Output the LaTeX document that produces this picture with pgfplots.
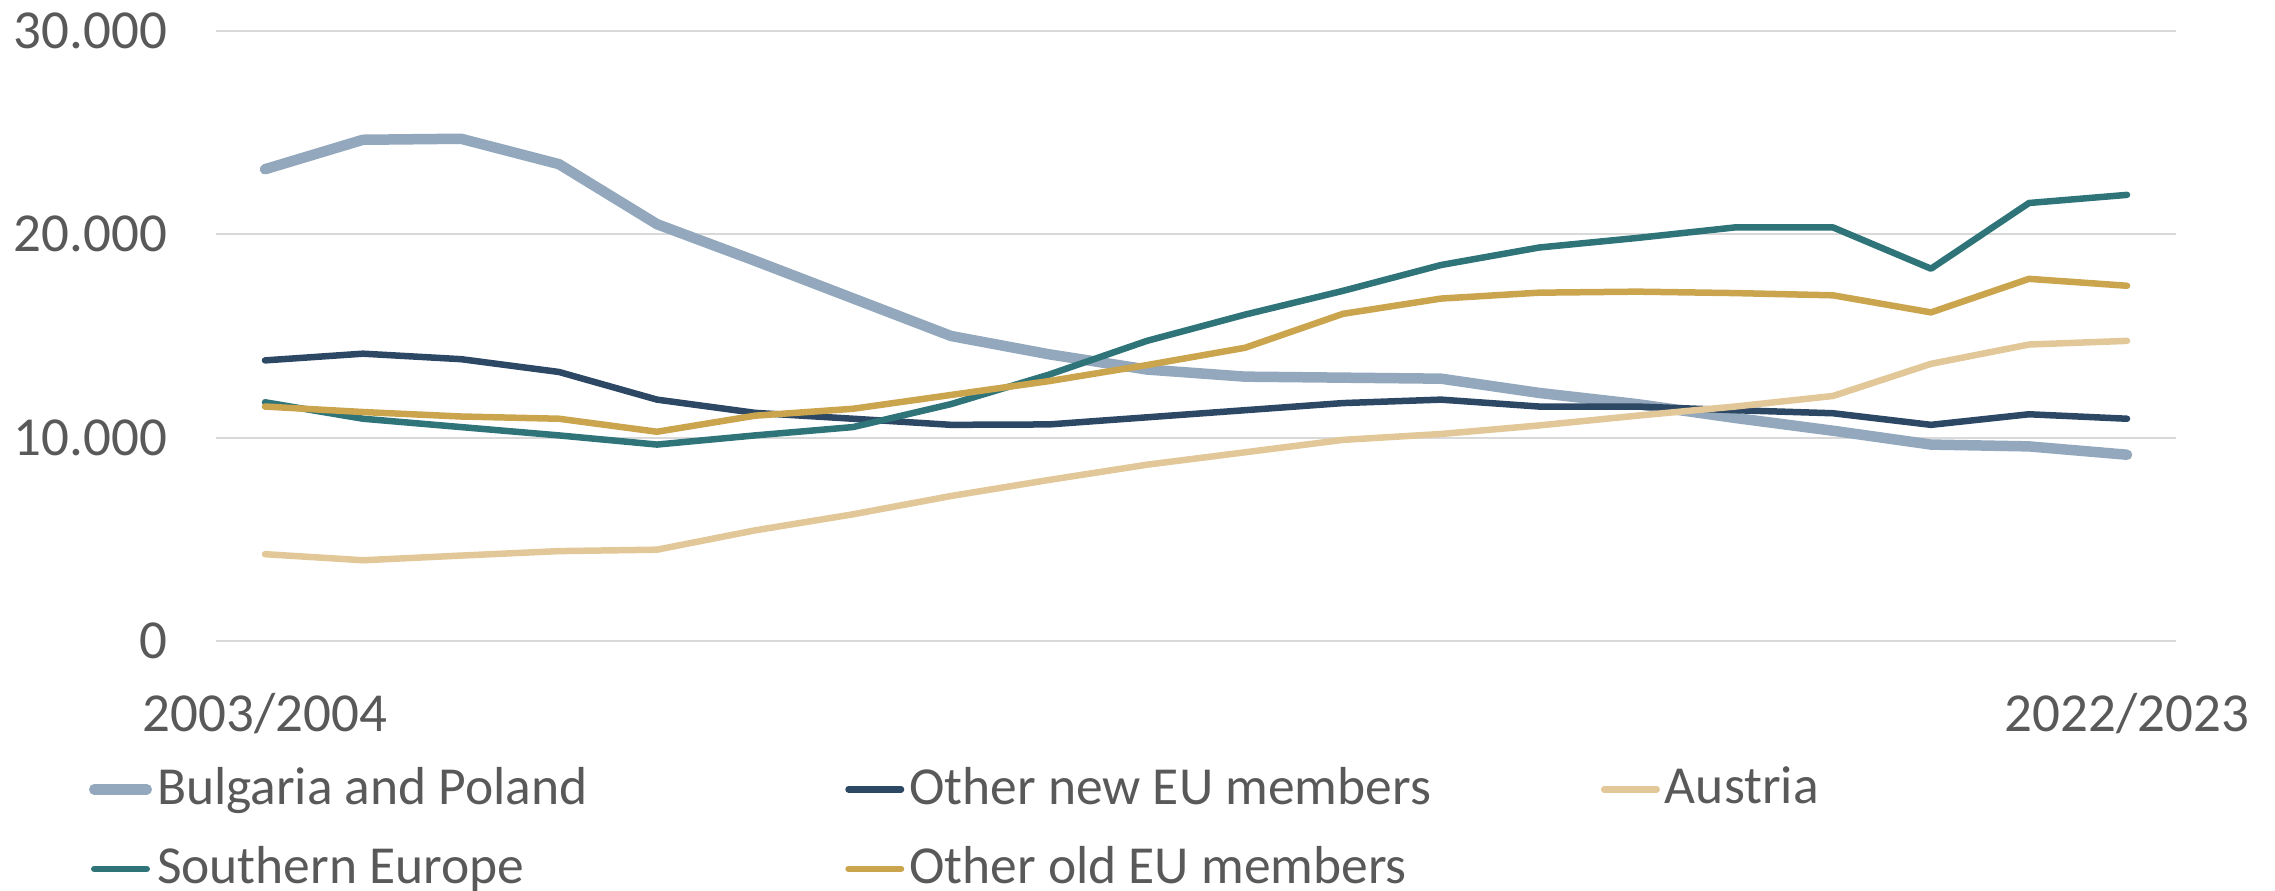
\documentclass[border=0pt]{standalone}
\usepackage{pgfplots}
\pgfplotsset{compat=1.18}
\usepackage{fontspec}
\setmainfont{Carlito}
\definecolor{bgp}{HTML}{93A8BC}
\definecolor{newEU}{HTML}{2C4864}
\definecolor{aut}{HTML}{E2C799}
\definecolor{south}{HTML}{2F7478}
\definecolor{oldEU}{HTML}{CBA54E}
\definecolor{txt}{HTML}{595959}
\definecolor{grd}{HTML}{D9D9D9}
\begin{document}
\begin{tikzpicture}
\useasboundingbox (-43.2pt,-50pt) rectangle (411.8pt,128.2pt);
\begin{axis}[
  at={(0,0)}, anchor=south west,
  scale only axis, width=392pt, height=122pt,
  xmin=-0.5, xmax=19.5, ymin=0, ymax=30000,
  xtick={0,19}, xticklabels={2003/2004,2022/2023},
  ytick={0,10000,20000,30000},
  scaled y ticks=false,
  /pgf/number format/1000 sep={.},
  /pgf/number format/assume math mode=true,
  axis line style={draw=none},
  major tick length=0pt,
  ymajorgrids, grid style={grd, line width=0.4pt},
  tick label style={txt, font=\fontsize{11}{13}\selectfont, inner sep=0pt},
  yticklabel style={anchor=east, xshift=-9.6pt},
  xticklabel style={anchor=north, yshift=-10.2pt},
  legend columns=3,
  legend style={at={(0,0)}, anchor=north west, xshift=-25.6pt, yshift=-24pt,
    draw=none, fill=none, inner sep=0pt, row sep=5pt,
    font=\fontsize{10.7}{12}\selectfont, text=txt,
    nodes={inner sep=1pt},
    /tikz/column 2/.append style={column sep=50.5pt},
    /tikz/column 4/.append style={column sep=33pt}},
  legend cell align=left,
  legend image code/.code={\draw[#1, line cap=round] (0pt,0pt) -- (10.5pt,0pt);},
  every axis plot/.append style={line join=round, line cap=round, mark=none},
]
\addplot[bgp, line width=2.1pt] coordinates {
(0,23200) (1,24650) (2,24700) (3,23450) (4,20500) (5,18700) (6,16850) (7,15000) (8,14100) (9,13350)
(10,13000) (11,12950) (12,12900) (13,12200) (14,11650) (15,10970) (16,10340) (17,9660) (18,9570) (19,9160)};
\addlegendentry{Bulgaria and Poland}
\addplot[newEU, line width=1.3pt] coordinates {
(0,13800) (1,14130) (2,13860) (3,13230) (4,11870) (5,11220) (6,10930) (7,10630) (8,10650) (9,11000)
(10,11350) (11,11700) (12,11870) (13,11530) (14,11530) (15,11350) (16,11200) (17,10630) (18,11150) (19,10930)};
\addlegendentry{Other new EU members}
\addplot[aut, line width=1.3pt] coordinates {
(0,4270) (1,3970) (2,4200) (3,4420) (4,4490) (5,5440) (6,6230) (7,7130) (8,7920) (9,8670)
(10,9280) (11,9890) (12,10180) (13,10600) (14,11080) (15,11530) (16,12050) (17,13630) (18,14580) (19,14760)};
\addlegendentry{Austria}
\addplot[south, line width=1.3pt] coordinates {
(0,11740) (1,10930) (2,10520) (3,10110) (4,9660) (5,10110) (6,10520) (7,11650) (8,13100) (9,14760)
(10,16050) (11,17220) (12,18490) (13,19350) (14,19820) (15,20340) (16,20340) (17,18310) (18,21540) (19,21940)};
\addlegendentry{Southern Europe}
\addplot[oldEU, line width=1.3pt] coordinates {
(0,11530) (1,11260) (2,11040) (3,10930) (4,10290) (5,11080) (6,11420) (7,12100) (8,12780) (9,13570)
(10,14420) (11,16090) (12,16840) (13,17130) (14,17180) (15,17110) (16,17000) (17,16160) (18,17810) (19,17470)};
\addlegendentry{Other old EU members}
\end{axis}
\end{tikzpicture}
\end{document}
